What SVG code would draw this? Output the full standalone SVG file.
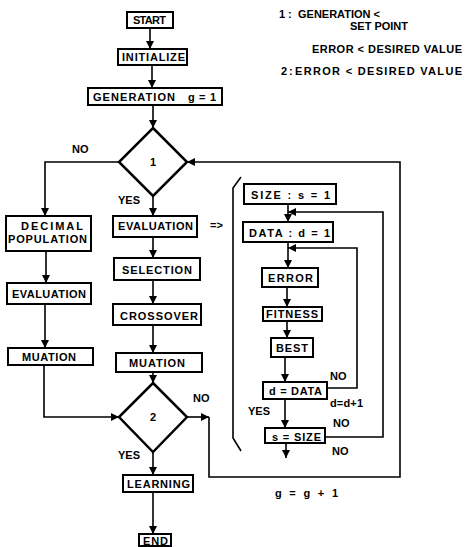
<svg xmlns="http://www.w3.org/2000/svg" width="465" height="547" viewBox="0 0 465 547">
<defs>
<marker id="ah" markerUnits="userSpaceOnUse" markerWidth="9" markerHeight="9" refX="8" refY="4" orient="auto">
<path d="M0,0 L8,4 L0,8 Z" fill="#000"/>
</marker>
<style>
text{font-family:"Liberation Sans",Arial,sans-serif;font-weight:bold;font-size:11px;fill:#000}
.box{fill:#fff;stroke:#000;stroke-width:2}
.dia{fill:#fff;stroke:#000;stroke-width:2.5}
.c{fill:none;stroke:#000;stroke-width:1.6}
.a{marker-end:url(#ah)}
</style>
</defs>
<rect width="465" height="547" fill="#fff"/>

<g id="legend">
<text x="279" y="18">1</text>
<text x="288" y="18">:</text>
<text x="298" y="18" textLength="82">GENERATION &lt;</text>
<text x="350" y="30" textLength="58">SET POINT</text>
<text x="312" y="53" textLength="150">ERROR &lt; DESIRED VALUE</text>
<text x="281" y="75">2</text>
<text x="289" y="75">:</text>
<text x="295" y="75" textLength="167">ERROR &lt; DESIRED VALUE</text>
</g>

<g id="connectors">
<line class="c a" x1="150" y1="28" x2="150" y2="49"/>
<line class="c a" x1="152" y1="65" x2="152" y2="88"/>
<line class="c a" x1="153" y1="105" x2="153" y2="128"/>
<polyline class="c a" points="119,162 45,162 45,216"/>
<line class="c a" x1="46" y1="251" x2="46" y2="283"/>
<line class="c a" x1="45" y1="304" x2="45" y2="348"/>
<polyline class="c a" points="44,365 44,417 119,417"/>
<line class="c a" x1="153" y1="197" x2="153" y2="216"/>
<line class="c a" x1="153" y1="237" x2="153" y2="258"/>
<line class="c a" x1="153" y1="280" x2="153" y2="304"/>
<line class="c a" x1="153" y1="325" x2="153" y2="353"/>
<line class="c a" x1="153" y1="372" x2="153" y2="383"/>
<line class="c a" x1="153" y1="452" x2="153" y2="475"/>
<line class="c a" x1="153" y1="492" x2="153" y2="534"/>
<line class="c a" x1="187" y1="417" x2="209" y2="417"/>
<polyline class="c a" points="209,417 209,477 400,477 400,162 187,162"/>
<line class="c a" x1="288" y1="204" x2="288" y2="222"/>
<line class="c a" x1="288" y1="242" x2="288" y2="268"/>
<line class="c a" x1="287" y1="287" x2="287" y2="307"/>
<line class="c a" x1="287" y1="321" x2="287" y2="338"/>
<line class="c a" x1="285" y1="357" x2="285" y2="382"/>
<line class="c a" x1="285" y1="399" x2="285" y2="428"/>
<line class="c a" x1="286" y1="443" x2="286" y2="458"/>
<polyline class="c a" points="327,388 357,388 357,248 288,248"/>
<polyline class="c a" points="325,437 383,437 383,212 288,212"/>
<path class="c" d="M241,177 L233,188 L233,438 L241,451"/>
</g>

<g id="n-start"><rect class="box" x="127" y="12" width="46" height="16"/><text x="133" y="24" textLength="33">START</text></g>
<g id="n-init"><rect class="box" x="118" y="49" width="69" height="16"/><text x="122" y="61" textLength="63">INITIALIZE</text></g>
<g id="n-gen"><rect class="box" x="88" y="88" width="134" height="17"/><text x="93" y="101" textLength="82">GENERATION</text><text x="188" y="101" textLength="28">g = 1</text></g>
<g id="n-d1"><polygon class="dia" points="153,128 187,162 153,196 119,162"/><text x="153" y="166" text-anchor="middle">1</text></g>
<g id="n-dec"><rect class="box" x="6" y="216" width="85" height="35"/><text x="21" y="230" textLength="62">DECIMAL</text><text x="8" y="243" textLength="79">POPULATION</text></g>
<g id="n-eval-l"><rect class="box" x="7" y="283" width="84" height="21"/><text x="12" y="298" textLength="74">EVALUATION</text></g>
<g id="n-mut-l"><rect class="box" x="8" y="348" width="85" height="17"/><text x="22" y="361" textLength="54">MUATION</text></g>
<g id="n-eval"><rect class="box" x="113" y="216" width="84" height="21"/><text x="118" y="230" textLength="75">EVALUATION</text></g>
<g id="n-sel"><rect class="box" x="114" y="258" width="86" height="22"/><text x="122" y="274" textLength="70">SELECTION</text></g>
<g id="n-cross"><rect class="box" x="113" y="304" width="88" height="21"/><text x="120" y="320" textLength="78">CROSSOVER</text></g>
<g id="n-mut"><rect class="box" x="116" y="353" width="86" height="19"/><text x="129" y="367" textLength="56">MUATION</text></g>
<g id="n-d2"><polygon class="dia" points="153,383 187,417 153,452 119,417"/><text x="153" y="421" text-anchor="middle">2</text></g>
<g id="n-learn"><rect class="box" x="123" y="475" width="70" height="17"/><text x="127" y="488" textLength="63">LEARNING</text></g>
<g id="n-end"><rect class="box" x="139" y="534" width="32" height="12"/><text x="143" y="545" textLength="25">END</text></g>

<g id="n-size"><rect class="box" x="244" y="184" width="92" height="20"/><text x="251" y="199" textLength="79">SIZE  :  s =  1</text></g>
<g id="n-data"><rect class="box" x="243" y="222" width="90" height="20"/><text x="249" y="237" textLength="81">DATA  :  d =  1</text></g>
<g id="n-error"><rect class="box" x="262" y="268" width="56" height="19"/><text x="268" y="282" textLength="45">ERROR</text></g>
<g id="n-fit"><rect class="box" x="263" y="307" width="59" height="14"/><text x="266" y="318" textLength="52">FITNESS</text></g>
<g id="n-best"><rect class="box" x="271" y="338" width="42" height="19"/><text x="276" y="352" textLength="32">BEST</text></g>
<g id="n-ddata"><rect class="box" x="263" y="382" width="64" height="17"/><text x="269" y="395" textLength="53">d = DATA</text></g>
<g id="n-ssize"><rect class="box" x="265" y="428" width="60" height="15"/><text x="272" y="441" textLength="49">s = SIZE</text></g>

<g id="labels">
<text x="72" y="153">NO</text>
<text x="118" y="204">YES</text>
<text x="210" y="229">=&gt;</text>
<text x="193" y="402">NO</text>
<text x="118" y="459">YES</text>
<text x="330" y="380">NO</text>
<text x="330" y="407" textLength="33">d=d+1</text>
<text x="248" y="415">YES</text>
<text x="333" y="427">NO</text>
<text x="332" y="455">NO</text>
<text x="275" y="497" textLength="63">g  =  g  +  1</text>
</g>
</svg>
